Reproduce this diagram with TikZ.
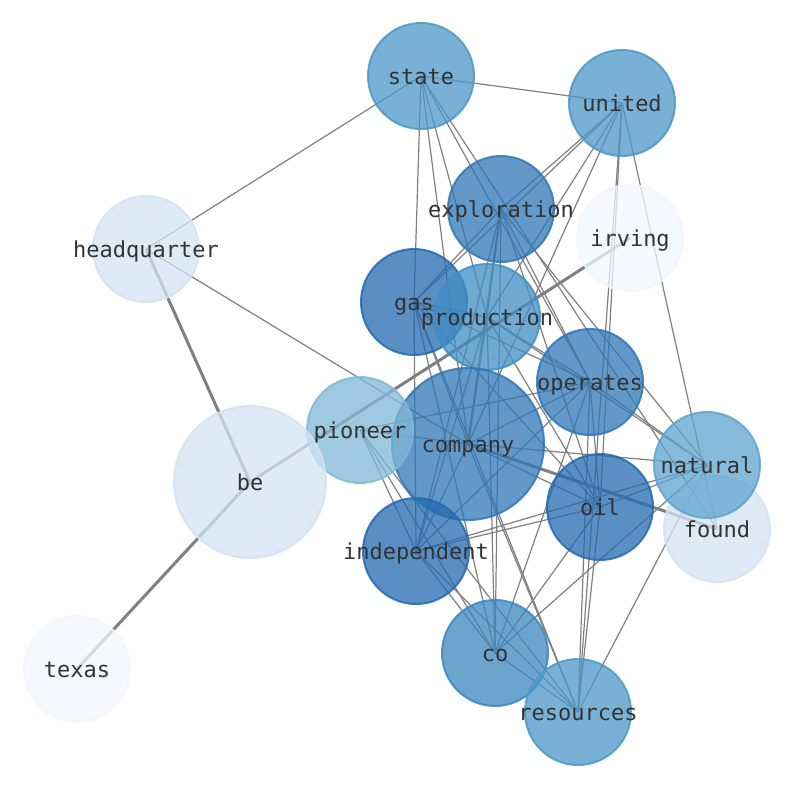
\documentclass[tikz,border=0pt]{standalone}
\usepackage{fontspec}
\newfontfamily\lblfont{DejaVu Sans Mono}
\definecolor{cA}{HTML}{236AB0}
\definecolor{cB}{HTML}{2F77B7}
\definecolor{cC}{HTML}{3A87BF}
\definecolor{cD}{HTML}{408EC4}
\definecolor{cE}{HTML}{4B98C8}
\definecolor{cF}{HTML}{5EA4CF}
\definecolor{cG}{HTML}{80B8D7}
\definecolor{cH}{HTML}{D3E3F2}
\definecolor{cI}{HTML}{F2F7FE}
\definecolor{edgegray}{HTML}{808080}
\definecolor{txt}{HTML}{333333}
\tikzset{
  vtx/.style={circle, inner sep=0pt, minimum size=106pt, fill=#1, fill opacity=0.75, draw=#1, draw opacity=0.85, line width=2pt},
  bigvtx/.style={vtx=#1, minimum size=152pt},
  lbl/.style={anchor=base, yshift=-8pt, text=txt, font=\lblfont\fontsize{22}{22}\selectfont, inner sep=0pt},
  edg/.style={draw=edgegray, line width=1.2pt},
  thick edge/.style={draw=edgegray, line width=3pt},
  mid edge/.style={draw=edgegray, line width=2pt}
}
\begin{document}
\begin{tikzpicture}[x=1pt,y=-1pt]
\path[fill=white, use as bounding box] (0,0) rectangle (794,790);
% centres
\coordinate (state) at (421,76);
\coordinate (united) at (622,103);
\coordinate (exploration) at (501,209);
\coordinate (irving) at (630,238);
\coordinate (headquarter) at (146,249);
\coordinate (gas) at (414,302);
\coordinate (production) at (487,317);
\coordinate (operates) at (590,382);
\coordinate (pioneer) at (360,430);
\coordinate (company) at (468,444);
\coordinate (be) at (250,482);
\coordinate (natural) at (707,465);
\coordinate (oil) at (600,507);
\coordinate (found) at (717,529);
\coordinate (independent) at (416,551);
\coordinate (co) at (495,653);
\coordinate (resources) at (578,712);
\coordinate (texas) at (77,669);
% edges
\foreach \a/\b in {state/united, state/headquarter, state/gas, state/company, state/production, state/operates, state/found,
  united/exploration, united/gas, united/production, united/company, united/oil, united/found, united/resources,
  exploration/gas, exploration/production, exploration/co, exploration/independent, exploration/operates, exploration/oil, exploration/natural,
  gas/production, gas/independent, gas/company, gas/oil, gas/operates, gas/co, gas/resources,
  production/company, production/independent, production/operates, production/co, production/natural, production/oil,
  operates/pioneer, operates/company, operates/oil, operates/co, operates/resources, operates/natural, operates/independent,
  pioneer/company, pioneer/independent, pioneer/co, pioneer/resources,
  headquarter/company,
  company/natural, company/oil, company/independent, company/resources,
  oil/natural, oil/independent, oil/co, oil/resources,
  independent/co, independent/resources, independent/natural,
  co/resources, co/natural, natural/resources}
  {\path[edg] (\a) -- (\b);}
\path[mid edge] (exploration) -- (company);
\path[thick edge] (headquarter) -- (be);
\path[thick edge] (be) -- (texas);
\path[thick edge] (be) -- (irving);
\path[thick edge] (company) -- (found);
% circles
\node[vtx=cE] (state-c) at (state) {};
\node[vtx=cE] (united-c) at (united) {};
\node[vtx=cB] (exploration-c) at (exploration) {};
\node[vtx=cI] (irving-c) at (irving) {};
\node[vtx=cH] (headquarter-c) at (headquarter) {};
\node[vtx=cA] (gas-c) at (gas) {};
\node[vtx=cD] (production-c) at (production) {};
\node[vtx=cB] (operates-c) at (operates) {};
\node[bigvtx=cB] (company-c) at (company) {};
\node[vtx=cG] (pioneer-c) at (pioneer) {};
\node[bigvtx=cH] (be-c) at (be) {};
\node[vtx=cH] (found-c) at (found) {};
\node[vtx=cF] (natural-c) at (natural) {};
\node[vtx=cA] (oil-c) at (oil) {};
\node[vtx=cA] (independent-c) at (independent) {};
\node[vtx=cC] (co-c) at (co) {};
\node[vtx=cE] (resources-c) at (resources) {};
\node[vtx=cI] (texas-c) at (texas) {};
% labels
\foreach \n in {state, united, exploration, irving, headquarter, gas, production, operates, pioneer, company, be, natural, oil, found, independent, co, resources, texas}
  {\node[lbl] (\n-t) at (\n) {\n};}
\end{tikzpicture}
\end{document}
